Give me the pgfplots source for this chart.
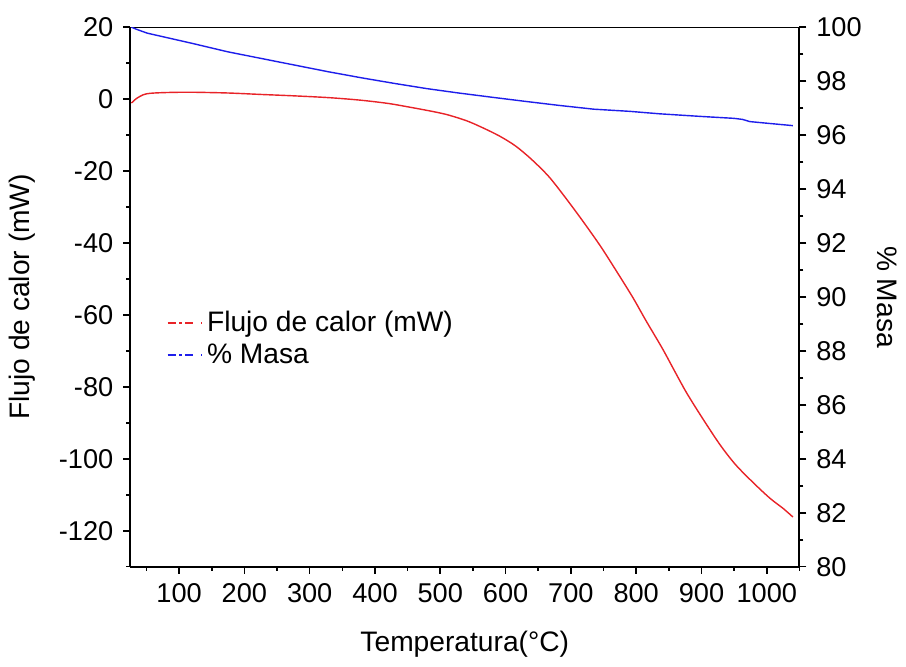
\documentclass[border=0pt]{standalone}
\usepackage{pgfplots}
\pgfplotsset{compat=1.18}
\usepackage{fontspec}
\setmainfont{Liberation Sans}
\definecolor{myred}{RGB}{232,35,40}
\definecolor{myblue}{RGB}{30,30,235}
\begin{document}
\fontsize{14}{16.8}\selectfont
\begin{tikzpicture}
\pgfplotsset{
  common/.style={
    width=332.5pt, height=268pt, scale only axis,
    xmin=25, xmax=1050,
    tick align=outside,
    major tick length=3.5pt, minor tick length=2pt,
    every tick/.style={black, line width=0.8pt},
    axis line style={line width=1pt},
    /pgf/number format/assume math mode=true,
    /pgf/number format/1000 sep={},
    tick label style={font=\fontsize{13.5}{16}\selectfont},
    label style={font=\fontsize{14}{16.8}\selectfont},
  }
}
\begin{axis}[common, name=ax,
  axis x line*=bottom, axis y line*=left,
  xtick={100,200,...,1000}, minor xtick={50,150,...,1050},
  ymin=-130, ymax=20,
  ytick={-120,-100,...,20}, minor ytick={-130,-110,...,10},
  xlabel={Temperatura(°C)},
  ylabel={Flujo de calor (mW)},
  xlabel style={yshift=-4.5pt},
  ylabel style={yshift=2pt},
  legend style={draw=none, fill=none, at={(0.045,0.49)}, anchor=north west,
    font=\fontsize{14}{16.8}\selectfont, row sep=0pt},
  legend cell align=left,
]
\draw[line width=1pt] (axis cs:25,20) -- (axis cs:1050,20);
\addplot[myred, line width=0.7pt, smooth, forget plot] coordinates {
(27,-1.1) (35,0.2) (45,1.2) (55,1.6) (75,1.8) (100,1.9) (125,1.9) (175,1.7) (225,1.3) (277,0.9)
(330,0.4) (378,-0.3) (420,-1.2) (455,-2.3) (490,-3.5) (512,-4.4) (540,-6.0) (563,-7.8)
(590,-10.2) (615,-13.0) (640,-16.8) (666,-21.5) (690,-27.0) (717,-33.6) (745,-40.8)
(769,-47.6) (795,-55.2) (815,-61.6) (840,-69.3) (860,-76.0) (877,-81.6) (900,-88.3)
(928,-96.0) (952,-101.6) (979,-106.6) (1005,-111.0) (1025,-113.8) (1040,-116.2)
};
\addlegendimage{draw=myred, line width=1pt, dash pattern=on 4pt off 1.8pt on 1.2pt off 1.8pt on 4pt}
\addlegendentry{Flujo de calor (mW)}
\addlegendimage{draw=myblue, line width=1pt, dash pattern=on 4pt off 1.8pt on 1.2pt off 1.8pt on 4pt}
\addlegendentry{\% Masa}
\end{axis}
\begin{axis}[common,
  axis x line=none, axis y line*=right,
  ymin=80, ymax=100,
  ytick={80,82,...,100}, minor ytick={81,83,...,99},
  ylabel={\% Masa},
  ylabel style={rotate=180, yshift=-2pt},
]
\addplot[myblue, line width=0.7pt] coordinates {
(27,100.0) (35,99.92) (51,99.78) (80,99.62) (120,99.40) (174,99.09) (230,98.82) (280,98.58)
(328,98.35) (380,98.12) (431,97.91) (480,97.72) (528,97.56) (580,97.40) (630,97.25)
(682,97.10) (735,96.96) (790,96.88) (835,96.79) (900,96.69) (950,96.62) (963,96.58)
(974,96.50) (1000,96.44) (1040,96.35)
};
\end{axis}
\path ([yshift=13.5pt]ax.north);
\end{tikzpicture}
\end{document}
